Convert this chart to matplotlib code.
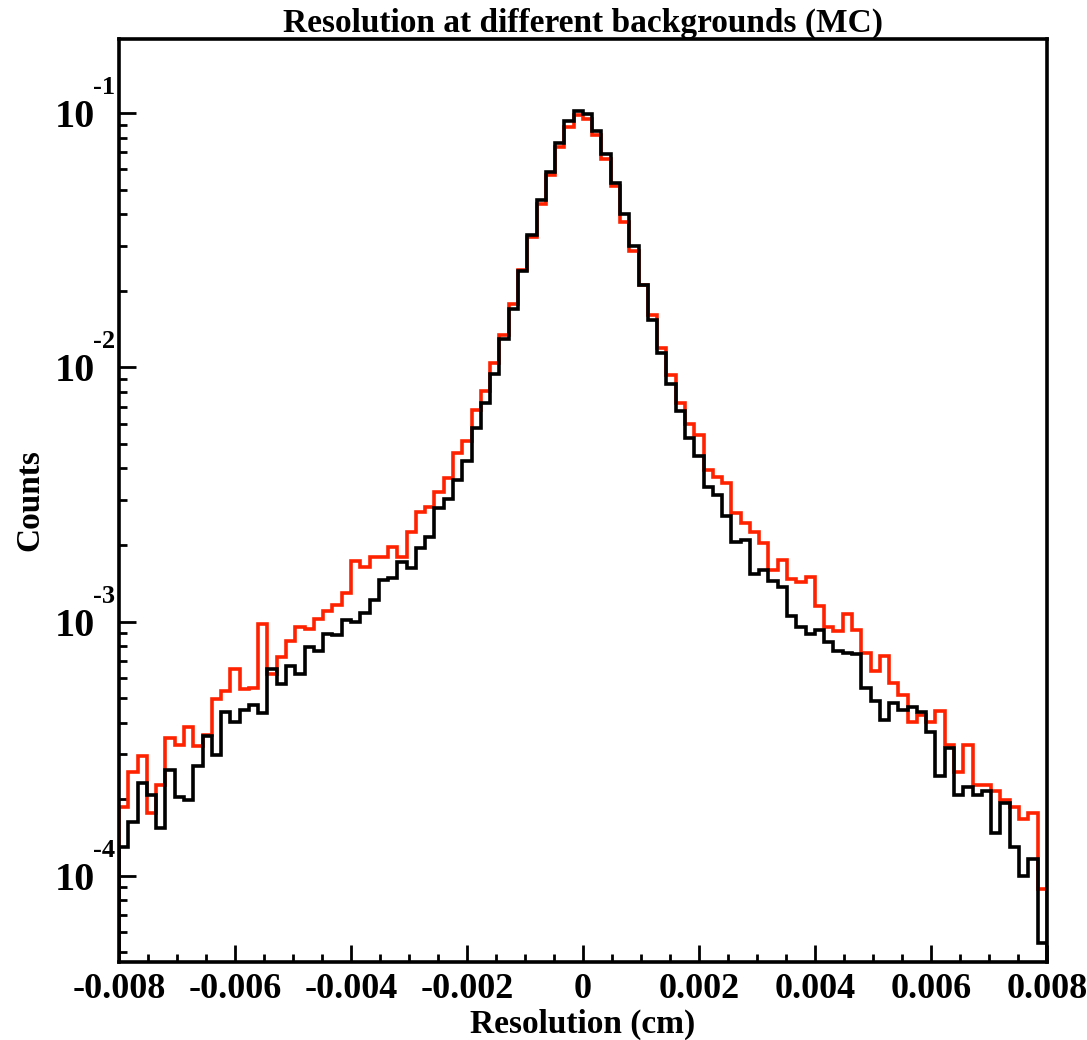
import numpy as np
import matplotlib
matplotlib.use("Agg")
import matplotlib.pyplot as plt
from matplotlib.ticker import FixedLocator, FuncFormatter, MultipleLocator

# histogram bins: 100 bins from -0.008 to 0.008 cm
x_min, x_max, n_bins = -0.008, 0.008, 100

# red histogram (higher background)
red_counts = [
    1.87e-4, 2.57e-4, 2.97e-4, 1.77e-4, 2.28e-4, 3.48e-4, 3.27e-4, 3.86e-4, 3.25e-4, 3.58e-4,
    4.94e-4, 5.35e-4, 6.52e-4, 5.43e-4, 5.50e-4, 9.79e-4, 6.19e-4, 7.28e-4, 8.41e-4, 9.55e-4,
    9.33e-4, 1.026e-3, 1.10e-3, 1.16e-3, 1.30e-3, 1.73e-3, 1.64e-3, 1.80e-3, 1.79e-3, 1.96e-3,
    1.80e-3, 2.24e-3, 2.70e-3, 2.81e-3, 3.24e-3, 3.66e-3, 4.60e-3, 5.14e-3, 6.81e-3, 8.09e-3,
    1.04e-2, 1.34e-2, 1.77e-2, 2.41e-2, 3.26e-2, 4.39e-2, 5.70e-2, 7.36e-2, 8.83e-2, 9.82e-2,
    9.51e-2, 8.19e-2, 6.58e-2, 5.16e-2, 3.71e-2, 2.87e-2, 2.11e-2, 1.61e-2, 1.19e-2, 9.33e-3,
    7.26e-3, 5.96e-3, 5.42e-3, 3.95e-3, 3.69e-3, 3.51e-3, 2.66e-3, 2.45e-3, 2.24e-3, 2.04e-3,
    1.59e-3, 1.75e-3, 1.47e-3, 1.43e-3, 1.50e-3, 1.15e-3, 9.53e-4, 9.21e-4, 1.07e-3, 9.29e-4,
    7.53e-4, 6.41e-4, 7.33e-4, 5.74e-4, 5.14e-4, 4.04e-4, 4.30e-4, 4.03e-4, 4.45e-4, 3.26e-4,
    2.57e-4, 3.26e-4, 2.28e-4, 2.28e-4, 2.16e-4, 1.98e-4, 1.87e-4, 1.67e-4, 1.77e-4, 8.85e-5,
]

# black histogram (lower background)
black_counts = [
    1.30e-4, 1.62e-4, 2.31e-4, 2.08e-4, 1.54e-4, 2.61e-4, 2.05e-4, 1.99e-4, 2.71e-4, 3.55e-4,
    2.99e-4, 4.39e-4, 4.04e-4, 4.49e-4, 4.70e-4, 4.36e-4, 6.49e-4, 5.69e-4, 6.69e-4, 6.21e-4,
    7.96e-4, 7.66e-4, 8.94e-4, 8.85e-4, 1.01e-3, 9.96e-4, 1.08e-3, 1.21e-3, 1.45e-3, 1.48e-3,
    1.71e-3, 1.63e-3, 1.94e-3, 2.15e-3, 2.79e-3, 3.02e-3, 3.59e-3, 4.28e-3, 5.77e-3, 7.22e-3,
    9.41e-3, 1.29e-2, 1.70e-2, 2.38e-2, 3.31e-2, 4.55e-2, 5.88e-2, 7.64e-2, 9.30e-2, 1.02e-1,
    9.91e-2, 8.52e-2, 6.90e-2, 5.32e-2, 4.00e-2, 3.00e-2, 2.11e-2, 1.53e-2, 1.14e-2, 8.57e-3,
    6.73e-3, 5.27e-3, 4.48e-3, 3.39e-3, 3.15e-3, 2.60e-3, 2.05e-3, 2.09e-3, 1.54e-3, 1.60e-3,
    1.44e-3, 1.37e-3, 1.05e-3, 9.53e-4, 8.92e-4, 9.29e-4, 8.34e-4, 7.69e-4, 7.53e-4, 7.43e-4,
    5.47e-4, 4.89e-4, 4.10e-4, 4.77e-4, 4.49e-4, 4.60e-4, 4.39e-4, 3.69e-4, 2.47e-4, 3.18e-4,
    2.08e-4, 2.23e-4, 2.08e-4, 2.16e-4, 1.47e-4, 1.93e-4, 1.30e-4, 1.00e-4, 1.16e-4, 5.43e-5,
]

x_ticks = [-0.008, -0.006, -0.004, -0.002, 0, 0.002, 0.004, 0.006, 0.008]
y_ticks = [1e-4, 1e-3, 1e-2, 1e-1]
y_exponents = ["-4", "-3", "-2", "-1"]

plt.rcParams["font.family"] = ["Liberation Serif", "DejaVu Serif"]
plt.rcParams["font.weight"] = "bold"

fig = plt.figure(figsize=(10.87, 10.40), dpi=100)
ax = fig.add_axes([0.1095, 0.075, 0.8535, 0.8875])

edges = np.linspace(x_min, x_max, n_bins + 1)
ax.stairs(red_counts, edges, baseline=1e-7, color="#ff2200", linewidth=2.6, zorder=2)
ax.stairs(black_counts, edges, baseline=1e-7, color="black", linewidth=2.6, zorder=3)

ax.set_yscale("log")
ax.set_xlim(x_min, x_max)
ax.set_ylim(4.58e-5, 0.1954)

ax.xaxis.set_major_locator(FixedLocator(x_ticks))
ax.xaxis.set_minor_locator(MultipleLocator(0.0005))
ax.xaxis.set_major_formatter(FuncFormatter(lambda v, p: "0" if abs(v) < 1e-9 else "%.3f" % v))

# ROOT style: "10" as tick label, exponent raised above it
ax.yaxis.set_major_locator(FixedLocator(y_ticks))
ax.set_yticklabels(["10"] * len(y_ticks))
minor_y = [m * 10.0 ** e for e in range(-5, 0) for m in range(2, 10)]
ax.yaxis.set_minor_locator(FixedLocator(minor_y))
ax.yaxis.set_minor_formatter(FuncFormatter(lambda v, p: ""))
ytrans = ax.get_yaxis_transform()
for val, ex in zip(y_ticks, y_exponents):
    ax.annotate(ex, xy=(0, val), xycoords=ytrans, xytext=(-3, 10), textcoords="offset points",
                ha="right", va="bottom", fontsize=19, fontweight="bold", annotation_clip=False)

ax.tick_params(which="both", direction="in", top=False, right=False, width=2)
ax.tick_params(which="major", length=12)
ax.tick_params(which="minor", length=6)
ax.tick_params(axis="x", labelsize=26, pad=8)
ax.tick_params(axis="y", labelsize=29, pad=17)

for s in ax.spines.values():
    s.set_linewidth(2.6)
    s.set_zorder(5)

ax.set_xlabel("Resolution (cm)", fontsize=24, fontweight="bold", labelpad=2)
ax.set_ylabel("Counts", fontsize=24, fontweight="bold", labelpad=7)
ax.set_title("Resolution at different backgrounds (MC)", fontsize=24, fontweight="bold", pad=2)

fig.savefig("out.png", dpi=100)
